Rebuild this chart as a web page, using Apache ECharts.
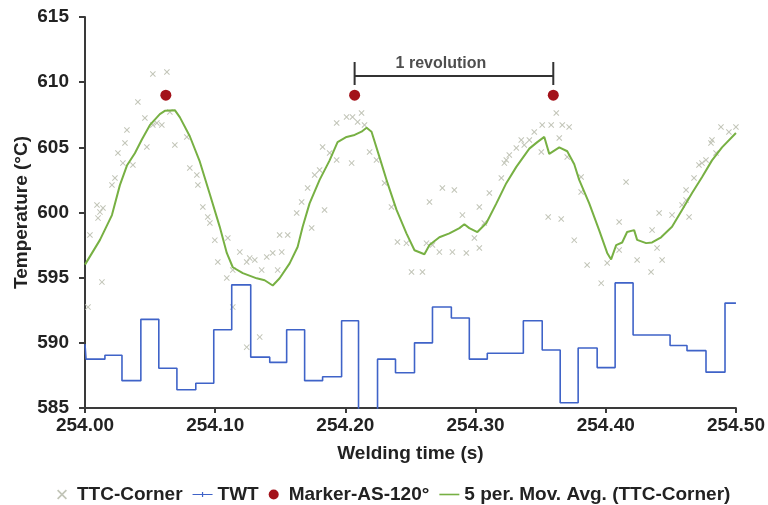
<!DOCTYPE html>
<html><head><meta charset="utf-8">
<script src="https://cdn.jsdelivr.net/npm/echarts@6/dist/echarts.min.js"></script>
<style>html,body{margin:0;padding:0;background:#fff}#c{width:768px;height:505px}</style>
</head><body><div id="c"></div>
<script>
// TTC-Corner raw samples (scatter, "x" marks)
const ttcTime = [254.0023,254.0038,254.0092,254.0115,254.0138,254.0100,254.0130,254.0207,254.0230,254.0253,254.0291,254.0322,254.0307,254.0368,254.0406,254.0460,254.0475,254.0521,254.0521,254.0552,254.0590,254.0629,254.0652,254.0690,254.0782,254.0805,254.0859,254.0867,254.0905,254.0943,254.0959,254.0997,254.1020,254.1097,254.1089,254.1135,254.1135,254.1189,254.1242,254.1242,254.1265,254.1304,254.1342,254.1357,254.1396,254.1442,254.1480,254.1511,254.1495,254.1557,254.1626,254.1664,254.1710,254.1741,254.1764,254.1802,254.1825,254.1840,254.1879,254.1933,254.1933,254.2009,254.2055,254.2048,254.2094,254.2124,254.2147,254.2186,254.2239,254.2301,254.2354,254.2400,254.2469,254.2508,254.2592,254.2623,254.2669,254.2646,254.2745,254.2837,254.2722,254.2822,254.2929,254.2899,254.2991,254.3029,254.3029,254.3067,254.3106,254.3198,254.3221,254.3236,254.3259,254.3313,254.3351,254.3374,254.3413,254.3451,254.3512,254.3581,254.3620,254.3643,254.3666,254.3719,254.3505,254.3704,254.3811,254.3811,254.3558,254.3658,254.3758,254.3857,254.3965,254.4011,254.4103,254.4103,254.4156,254.4241,254.4348,254.4433,254.4394,254.4356,254.4410,254.4509,254.4586,254.4617,254.4640,254.4617,254.4678,254.4716,254.4739,254.4770,254.4808,254.4816,254.4847,254.4885,254.4946,254.5000];
const ttcTemp = [592.74,598.27,600.57,600.03,600.34,599.57,594.66,602.11,602.64,604.56,603.79,606.33,605.33,603.64,608.48,607.25,605.02,610.63,606.71,606.86,606.71,610.78,607.71,605.18,605.79,603.41,602.87,602.11,600.42,599.65,599.19,597.88,596.20,598.04,594.97,595.58,592.74,596.96,596.20,589.67,596.50,596.35,590.44,595.58,596.58,596.89,595.58,596.96,598.27,598.27,599.96,600.80,601.88,598.81,602.87,603.26,605.02,600.19,604.56,604.03,606.86,607.33,607.33,603.79,606.94,607.63,606.71,604.64,604.03,602.26,600.42,597.73,597.65,595.43,595.43,597.65,597.50,600.80,601.88,601.72,596.96,596.96,596.89,599.80,598.04,597.27,600.42,599.19,601.49,602.64,603.79,604.03,604.41,604.95,605.56,605.18,605.56,606.17,606.71,606.71,607.63,605.71,606.71,606.56,604.64,604.26,602.72,601.57,599.65,599.50,597.88,595.97,594.58,596.12,599.27,597.12,602.34,596.35,595.43,596.35,597.27,598.65,599.96,599.80,600.57,600.95,599.65,601.72,602.64,603.64,603.79,604.03,605.33,605.56,604.56,606.56,606.17,606.56];

// TWT (step line): start time of each level and its temperature
const twtTime = [254.0000,254.0008,254.0153,254.0284,254.0429,254.0567,254.0706,254.0851,254.0989,254.1127,254.1273,254.1419,254.1549,254.1687,254.1825,254.1971,254.2101,254.2247,254.2385,254.2531,254.2669,254.2814,254.2952,254.3090,254.3367,254.3512,254.3650,254.3788,254.3934,254.4072,254.4210,254.4494,254.4624,254.4770,254.4916,254.5000];
const twtTemp = [589.9,588.75,589.05,587.1,591.8,588.05,586.4,586.9,591.0,594.45,588.9,588.5,591.0,587.1,587.4,591.7,583.0,588.75,587.7,590.0,592.75,591.9,588.75,589.2,591.7,589.45,585.4,589.6,588.1,594.6,590.6,589.8,589.4,587.75,593.05,593.05];

// 5 per. moving average of TTC-Corner
const maTime = [254.0000,254.0115,254.0207,254.0268,254.0322,254.0383,254.0437,254.0498,254.0575,254.0613,254.0690,254.0729,254.0805,254.0882,254.0959,254.1035,254.1089,254.1135,254.1212,254.1319,254.1380,254.1442,254.1495,254.1572,254.1633,254.1672,254.1725,254.1802,254.1879,254.1940,254.2009,254.2071,254.2124,254.2163,254.2201,254.2262,254.2324,254.2393,254.2469,254.2531,254.2607,254.2646,254.2722,254.2799,254.2876,254.2914,254.2952,254.3014,254.3083,254.3160,254.3236,254.3313,254.3413,254.3474,254.3528,254.3566,254.3643,254.3704,254.3758,254.3796,254.3873,254.3949,254.4011,254.4041,254.4080,254.4126,254.4164,254.4218,254.4241,254.4310,254.4356,254.4425,254.4509,254.4586,254.4663,254.4739,254.4816,254.4893,254.5000];
const maTemp = [596.0,597.9,599.8,602.1,603.6,604.55,605.6,606.7,607.55,607.8,607.85,607.3,605.85,603.9,601.4,598.9,596.9,595.8,595.35,594.95,594.8,594.4,594.95,596.1,597.35,598.9,600.7,602.5,604.0,605.4,605.8,605.95,606.2,606.5,606.2,604.25,602.25,600.2,598.4,597.1,596.8,597.5,598.1,598.4,598.8,599.1,598.8,598.5,599.2,600.7,602.25,603.5,604.9,605.4,605.8,604.5,605.0,604.7,603.7,602.5,600.7,598.65,596.9,596.4,597.5,597.7,598.5,598.65,597.9,597.65,597.7,598.1,598.9,600.2,601.5,602.7,604.0,605.0,606.1];

// Marker-AS-120°
const markerTime = [254.0621,254.2071,254.3597];
const markerTemp = [609.0,609.0,609.0];

// "1 revolution" bracket
const revStart = 254.2071, revEnd = 254.3597;
const revLevel = 610.47, revTop = 611.55, revBottom = 609.78;
const revLabel = '1 revolution';

const names = ['TTC-Corner','TWT','Marker-AS-120°','5 per. Mov. Avg. (TTC-Corner)'];
const xMin = 254.0, xMax = 254.5, xStep = 0.1;
const yMin = 585, yMax = 615, yStep = 5;

const zip = (a, b) => a.map((v, i) => [v, b[i]]);
const FF = '"Liberation Sans", Arial, sans-serif';
const txt = {fontFamily: FF, fontWeight: 'bold', fontSize: 19, color: '#222'};
const axisCol = '#3a3a3a';
const xShape = 'path://M0,1.2L1.2,0L5,3.8L8.8,0L10,1.2L6.2,5L10,8.8L8.8,10L5,6.2L1.2,10L0,8.8L3.8,5Z';

const chart = echarts.init(document.getElementById('c'), null, {renderer: 'canvas'});
chart.setOption({
  animation: false,
  backgroundColor: '#fff',
  grid: {left: 85, right: 31, top: 17, bottom: 97, containLabel: false},
  legend: {
    left: 52, top: 480, itemWidth: 20, itemHeight: 10, itemGap: 10,
    textStyle: txt,
    data: [
      {name: names[0], icon: xShape},
      {name: names[1], icon: 'path://M0,4.4h20v1.2h-20z M9.4,2.5h1.2v5h-1.2z'},
      {name: names[2], icon: 'circle'},
      {name: names[3], icon: 'path://M0,4.2h20v1.6h-20z'}
    ]
  },
  xAxis: {
    type: 'value', min: xMin, max: xMax, interval: xStep,
    axisLine: {show: true, onZero: false, lineStyle: {color: axisCol, width: 2}},
    axisTick: {show: true, length: 5, lineStyle: {color: axisCol, width: 2}},
    axisLabel: Object.assign({margin: 8, formatter: v => v.toFixed(2)}, txt),
    splitLine: {show: false},
    name: 'Welding time (s)', nameLocation: 'middle', nameGap: 36, nameTextStyle: txt
  },
  yAxis: {
    type: 'value', min: yMin, max: yMax, interval: yStep,
    axisLine: {show: true, onZero: false, lineStyle: {color: axisCol, width: 2}},
    axisTick: {show: true, length: 6, lineStyle: {color: axisCol, width: 2}},
    axisLabel: Object.assign({margin: 16}, txt),
    splitLine: {show: false},
    name: 'Temperature (°C)', nameLocation: 'middle', nameGap: 54, nameRotate: 90,
    nameMoveOverlap: false, nameTextStyle: txt
  },
  series: [
    {
      name: names[0], type: 'scatter', data: zip(ttcTime, ttcTemp),
      symbol: xShape, symbolSize: 6, symbolKeepAspect: true,
      itemStyle: {color: '#c2c5b8', opacity: 1}, z: 1, silent: true
    },
    {
      name: names[1], type: 'line', data: zip(twtTime, twtTemp), step: 'end',
      symbol: 'none', clip: true,
      lineStyle: {color: '#3f63c8', width: 1.6}, itemStyle: {color: '#3f63c8'}, z: 2
    },
    {
      name: names[3], type: 'line', data: zip(maTime, maTemp),
      symbol: 'none', lineStyle: {color: '#77b043', width: 2}, itemStyle: {color: '#77b043'}, z: 3
    },
    {
      name: names[2], type: 'scatter', data: zip(markerTime, markerTemp),
      symbol: 'circle', symbolSize: 11, itemStyle: {color: '#a3121a', opacity: 1}, z: 5
    },
    {
      name: 'bracket', type: 'line', silent: true, symbol: 'none', z: 4,
      data: [[revStart, revTop], [revStart, revBottom], [revStart, revLevel], [revEnd, revLevel], [revEnd, revBottom], [revEnd, revTop]],
      lineStyle: {color: '#333', width: 2}
    },
    {
      name: 'bracketLabel', type: 'scatter', silent: true, symbolSize: 0, z: 4,
      data: [[(revStart + revEnd) / 2, revLevel]],
      label: {show: true, position: 'top', distance: 4, offset: [-13, 0], formatter: revLabel,
        fontFamily: FF, fontWeight: 'bold', fontSize: 16, color: '#222'}
    }
  ]
});
</script></body></html>
